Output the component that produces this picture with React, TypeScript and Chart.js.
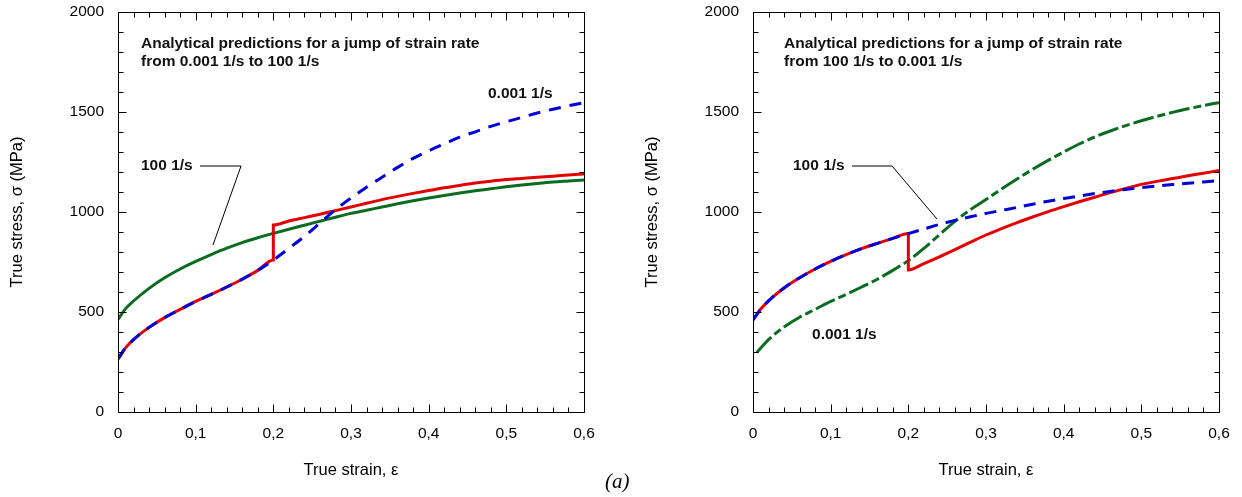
import React, { useEffect, useRef } from 'react';
import { Chart, registerables } from 'chart.js';

Chart.register(...registerables);

// ---------- DATA ----------
// strain grid up to the jump (0.2) and after it
const STRAIN_PRE = [0, 0.01, 0.02, 0.04, 0.06, 0.08, 0.1, 0.12, 0.14, 0.16, 0.18, 0.2];
const STRAIN_POST = [0.2, 0.22, 0.24, 0.26, 0.28, 0.3, 0.32, 0.34, 0.36, 0.38, 0.4, 0.42, 0.44, 0.46, 0.48, 0.5, 0.52, 0.54, 0.56, 0.58, 0.6];

// (left) jump 0.001 1/s -> 100 1/s
const L_SLOW_PRE = [265, 322, 362, 423, 472, 513, 553, 588, 625, 664, 708, 760];
const L_SLOW_POST = [760, 818, 878, 945, 1012, 1070, 1124, 1174, 1223, 1268, 1306, 1340, 1374, 1401, 1428, 1451, 1473, 1495, 1514, 1531, 1547];
const L_FAST_PRE = [463, 518, 555, 618, 671, 715, 753, 787, 819, 847, 871, 893];
const L_FAST_POST = [893, 914, 934, 954, 974, 993, 1009, 1025, 1041, 1056, 1070, 1083, 1095, 1106, 1116, 1126, 1135, 1143, 1150, 1155, 1160];
const L_JUMP_PRE = [265, 322, 362, 423, 472, 513, 553, 588, 625, 664, 708, 760];
const L_JUMP_POST = [935, 955, 972, 989, 1007, 1025, 1044, 1062, 1078, 1093, 1107, 1121, 1133, 1145, 1154, 1162, 1168, 1174, 1179, 1185, 1190];

// (right) jump 100 1/s -> 0.001 1/s
const R_FAST_PRE = [460, 515, 556, 620, 671, 715, 753, 787, 817, 843, 868, 892];
const R_FAST_POST = [892, 915, 938, 958, 976, 993, 1008, 1023, 1039, 1054, 1067, 1080, 1092, 1103, 1113, 1122, 1130, 1137, 1144, 1150, 1157];
const R_JUMP_PRE = [460, 515, 556, 620, 671, 715, 753, 787, 817, 843, 868, 892];
const R_JUMP_POST = [710, 742, 776, 812, 849, 885, 917, 947, 975, 1002, 1027, 1051, 1074, 1097, 1118, 1138, 1153, 1167, 1181, 1194, 1207];
const R_SLOW_STRAIN = [0.005, 0.02, 0.04, 0.06, 0.08, 0.1, 0.12, 0.14, 0.16, 0.18, 0.2, 0.22, 0.24, 0.26, 0.28, 0.3, 0.32, 0.34, 0.36, 0.38, 0.4, 0.42, 0.44, 0.46, 0.48, 0.5, 0.52, 0.54, 0.56, 0.58, 0.6];
const R_SLOW = [298, 362, 425, 474, 513, 553, 588, 625, 664, 708, 757, 818, 886, 953, 1012, 1062, 1115, 1165, 1213, 1258, 1300, 1340, 1375, 1405, 1432, 1456, 1478, 1498, 1516, 1532, 1547];

const X_MIN = 0;
const X_MAX = 0.6;
const Y_MIN = 0;
const Y_MAX = 2000;

// ---------- STYLE ----------
const RED = '#e30000';
const BLUE = '#0000d8';
const GREEN = '#0b6b21';
const SANS = '"Liberation Sans", Arial, Helvetica, sans-serif';

const pts = (xs: number[], ys: number[]) => xs.map((x, i) => ({ x, y: ys[i] }));
const joinSeries = (pre: number[], post: number[], continuous: boolean) => {
  const a = pts(STRAIN_PRE, pre);
  const b = pts(STRAIN_POST, post);
  return continuous ? a.concat(b.slice(1)) : a.concat(b);
};

type Note = { text: string; x: number; y: number };
type Leader = { x: number; y: number }[];

const framePlugin = {
  id: 'frame',
  afterDatasetsDraw(chart: any, _args: any, opts: any) {
    const { ctx, chartArea: a, scales } = chart;
    const xs = scales.x;
    const ys = scales.y;
    ctx.save();
    ctx.strokeStyle = '#000';
    ctx.lineWidth = 1;
    const L = Math.round(a.left) + 0.5;
    const R = Math.round(a.right) + 0.5;
    const T = Math.round(a.top) + 0.5;
    const B = Math.round(a.bottom) + 0.5;
    ctx.beginPath();
    ctx.rect(L, T, R - L, B - T);
    ctx.stroke();
    ctx.beginPath();
    for (let i = 0; i <= 30; i++) {
      const px = Math.round(xs.getPixelForValue(i * 0.02)) + 0.5;
      const len = i % 5 === 0 ? 8 : 5;
      ctx.moveTo(px, B);
      ctx.lineTo(px, B - len);
      ctx.moveTo(px, T);
      ctx.lineTo(px, T + len);
    }
    for (let i = 0; i <= 20; i++) {
      const py = Math.round(ys.getPixelForValue(i * 100)) + 0.5;
      const len = i % 5 === 0 ? 8 : 5;
      ctx.moveTo(L, py);
      ctx.lineTo(L + len, py);
      ctx.moveTo(R, py);
      ctx.lineTo(R - len, py);
    }
    ctx.stroke();

    // leader line
    const leader: Leader = opts.leader || [];
    if (leader.length) {
      ctx.beginPath();
      ctx.lineWidth = 1;
      leader.forEach((p, i) => {
        const px = xs.getPixelForValue(p.x);
        const py = ys.getPixelForValue(p.y);
        if (i === 0) ctx.moveTo(px, py);
        else ctx.lineTo(px, py);
      });
      ctx.stroke();
    }

    // notes
    ctx.fillStyle = '#111';
    ctx.font = `bold 15.5px ${SANS}`;
    ctx.textAlign = 'left';
    ctx.textBaseline = 'middle';
    (opts.notes || []).forEach((n: Note) => {
      ctx.fillText(n.text, xs.getPixelForValue(n.x), ys.getPixelForValue(n.y));
    });
    ctx.restore();
  },
};

function makeConfig(datasets: any[], notes: Note[], leader: Leader, rightPad: number) {
  return {
    type: 'line' as const,
    data: { datasets },
    plugins: [framePlugin],
    options: {
      animation: false,
      responsive: false,
      events: [],
      layout: { padding: { top: 12, right: rightPad, left: 0, bottom: 0 } },
      elements: { point: { radius: 0 } },
      plugins: {
        legend: { display: false },
        tooltip: { enabled: false },
        frame: { notes, leader },
      },
      scales: {
        x: {
          type: 'linear',
          min: X_MIN,
          max: X_MAX,
          grid: { display: false, drawTicks: false },
          border: { display: false },
          ticks: {
            stepSize: 0.1,
            padding: 12,
            color: '#000',
            font: { family: SANS, size: 15.5 },
            maxRotation: 0,
            callback: (v: number) => (Math.abs(v) < 1e-9 ? '0' : v.toFixed(1).replace('.', ',')),
          },
          title: {
            display: true,
            text: 'True strain, ε',
            color: '#000',
            font: { family: SANS, size: 16.5 },
            padding: { top: 0, bottom: 17 },
          },
          afterFit: (s: any) => {
            s.height = 85;
            s.paddingLeft = 0;
            s.paddingRight = 0;
          },
        },
        y: {
          type: 'linear',
          min: Y_MIN,
          max: Y_MAX,
          grid: { display: false, drawTicks: false },
          border: { display: false },
          ticks: {
            stepSize: 500,
            padding: 14,
            color: '#000',
            font: { family: SANS, size: 15.5 },
            callback: (v: number) => String(Math.round(v)),
          },
          title: {
            display: true,
            text: 'True stress, σ (MPa)',
            color: '#000',
            font: { family: SANS, size: 16.5 },
            padding: { top: 8, bottom: 0 },
          },
          afterFit: (s: any) => {
            s.width = 118;
            s.paddingTop = 0;
            s.paddingBottom = 0;
          },
        },
      },
    },
  };
}

const solid = (label: string, data: any[], color: string, order: number) => ({
  label,
  data,
  borderColor: color,
  backgroundColor: color,
  borderWidth: 3,
  cubicInterpolationMode: 'monotone',
  order,
});
const dashed = (label: string, data: any[], color: string, dash: number[], order: number) => ({
  ...solid(label, data, color, order),
  borderDash: dash,
});

function ChartCanvas({ config, width, height }: { config: any; width: number; height: number }) {
  const ref = useRef<HTMLCanvasElement | null>(null);
  useEffect(() => {
    if (!ref.current) return;
    const chart = new Chart(ref.current, config);
    return () => chart.destroy();
  }, []);
  return <canvas ref={ref} width={width} height={height} style={{ width, height, display: 'block' }} />;
}

export default function App() {
  const leftDatasets = [
    dashed('0.001 1/s', joinSeries(L_SLOW_PRE, L_SLOW_POST, true), BLUE, [12, 9], 0),
    solid('jump', joinSeries(L_JUMP_PRE, L_JUMP_POST, false), RED, 1),
    solid('100 1/s', joinSeries(L_FAST_PRE, L_FAST_POST, true), GREEN, 2),
  ];
  const rightDatasets = [
    dashed('100 1/s', joinSeries(R_FAST_PRE, R_FAST_POST, true), BLUE, [12, 8], 0),
    solid('jump', joinSeries(R_JUMP_PRE, R_JUMP_POST, false), RED, 1),
    dashed('0.001 1/s', pts(R_SLOW_STRAIN, R_SLOW), GREEN, [21, 4, 8, 4], 2),
  ];
  const leftNotes: Note[] = [
    { text: 'Analytical predictions for a jump of strain rate', x: 0.0296, y: 1843 },
    { text: 'from 0.001 1/s to 100 1/s', x: 0.0296, y: 1753 },
    { text: '0.001 1/s', x: 0.4764, y: 1590 },
    { text: '100 1/s', x: 0.0296, y: 1230 },
  ];
  const leftLeader: Leader = [
    { x: 0.1056, y: 1230 },
    { x: 0.1584, y: 1230 },
    { x: 0.1223, y: 835 },
  ];
  const rightNotes: Note[] = [
    { text: 'Analytical predictions for a jump of strain rate', x: 0.0399, y: 1843 },
    { text: 'from 100 1/s to 0.001 1/s', x: 0.0399, y: 1753 },
    { text: '100 1/s', x: 0.0515, y: 1230 },
    { text: '0.001 1/s', x: 0.076, y: 385 },
  ];
  const rightLeader: Leader = [
    { x: 0.1275, y: 1230 },
    { x: 0.179, y: 1230 },
    { x: 0.2369, y: 965 },
  ];

  return (
    <div style={{ position: 'fixed', left: 0, top: 0, width: 1242, height: 497, background: '#fff', overflow: 'hidden' }}>
      <div style={{ position: 'absolute', left: 0, top: 0 }}>
        <ChartCanvas config={makeConfig(leftDatasets, leftNotes, leftLeader, 36)} width={620} height={497} />
      </div>
      <div style={{ position: 'absolute', left: 635, top: 0 }}>
        <ChartCanvas config={makeConfig(rightDatasets, rightNotes, rightLeader, 23)} width={607} height={497} />
      </div>
      <div
        style={{
          position: 'absolute',
          left: 605,
          top: 469,
          fontFamily: '"Liberation Serif", "Times New Roman", serif',
          fontStyle: 'italic',
          fontSize: 21,
          color: '#000',
          lineHeight: '24px',
        }}
      >
        (a)
      </div>
    </div>
  );
}
